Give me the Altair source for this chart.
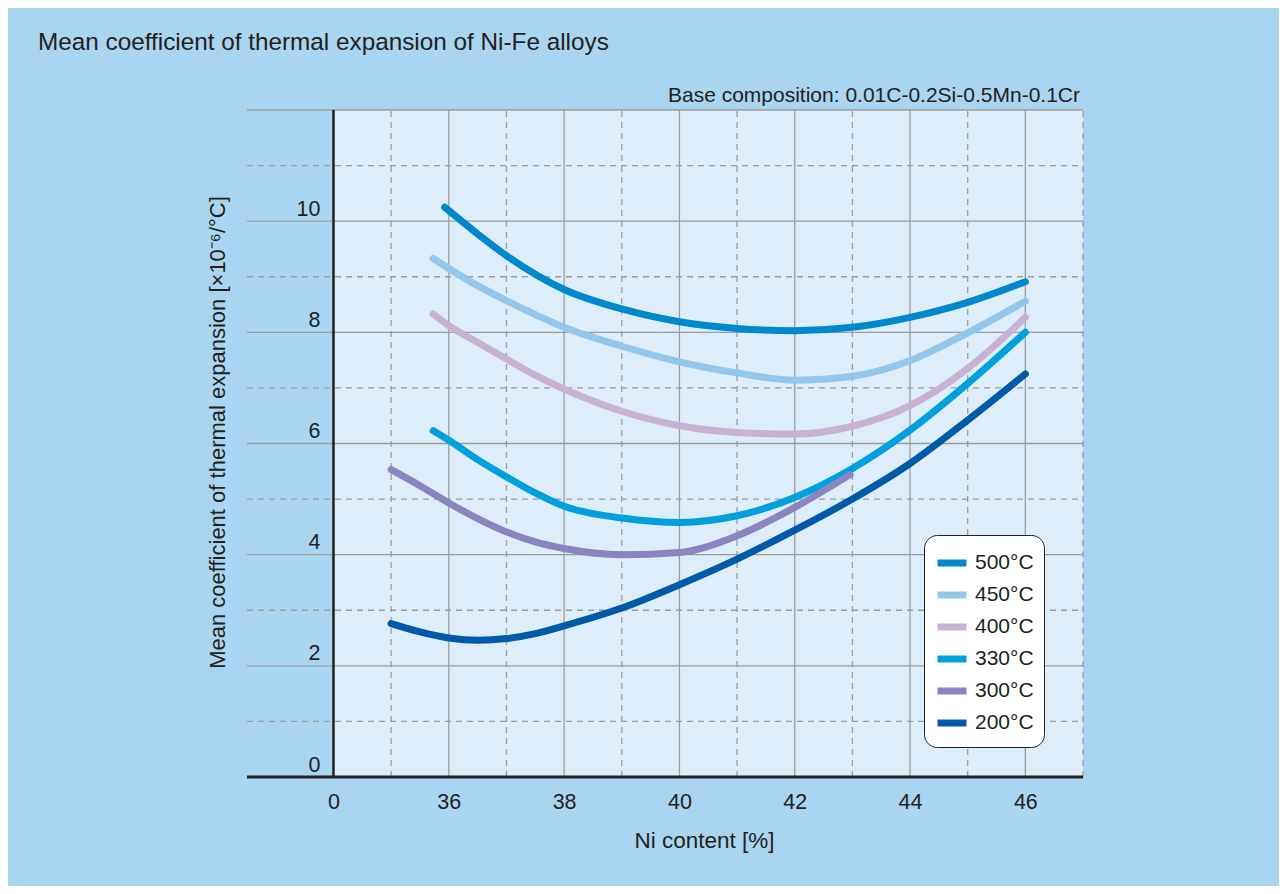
import altair as alt
import pandas as pd

FONT = "Liberation Sans, Arial, Helvetica, sans-serif"
TXT = "#231f20"

# ---- data ----
SERIES = ["500°C", "450°C", "400°C", "330°C", "300°C", "200°C"]
COLORS = ["#0088cc", "#93c6ea", "#c7b2d6", "#00a0dc", "#8a84c0", "#005aa8"]

NI_500 = [35.93, 36.5, 37, 38, 39, 40, 41, 42, 43, 44, 45, 46]
CTE_500 = [10.25, 9.77, 9.38, 8.77, 8.42, 8.19, 8.07, 8.03, 8.09, 8.27, 8.54, 8.91]

NI_450 = [35.73, 36, 36.5, 37, 37.5, 38, 39, 40, 41, 42, 43, 44, 45, 46]
CTE_450 = [9.33, 9.15, 8.84, 8.57, 8.32, 8.09, 7.75, 7.47, 7.27, 7.14, 7.21, 7.49, 7.99, 8.56]

NI_400 = [35.73, 36, 36.5, 37, 37.5, 38, 39, 40, 41, 42, 43, 44, 45, 46]
CTE_400 = [8.33, 8.12, 7.82, 7.52, 7.23, 6.98, 6.58, 6.32, 6.20, 6.17, 6.31, 6.68, 7.35, 8.27]

NI_330 = [35.73, 36, 36.5, 37, 37.5, 38, 39, 40, 41, 42, 43, 44, 45, 46]
CTE_330 = [6.23, 6.06, 5.71, 5.40, 5.11, 4.87, 4.66, 4.58, 4.70, 5.03, 5.55, 6.24, 7.08, 8.00]

NI_300 = [35.0, 35.5, 36, 36.5, 37, 37.5, 38, 39, 40, 41, 42, 42.96]
CTE_300 = [5.53, 5.24, 4.93, 4.65, 4.41, 4.23, 4.11, 4.00, 4.04, 4.34, 4.85, 5.44]

NI_200 = [35.0, 35.5, 36, 36.5, 37, 37.5, 38, 39, 40, 41, 42, 43, 44, 45, 46]
CTE_200 = [2.76, 2.61, 2.50, 2.46, 2.49, 2.58, 2.72, 3.04, 3.46, 3.92, 4.44, 5.00, 5.64, 6.42, 7.25]

X_TICKS = [34, 36, 38, 40, 42, 44, 46]
Y_TICKS = [0, 2, 4, 6, 8, 10]
X_GRID_SOLID = [36, 38, 40, 42, 44, 46]
X_GRID_DASH = [35, 37, 39, 41, 43, 45, 47]
Y_GRID_SOLID = [2, 4, 6, 8, 10, 12]
Y_GRID_DASH = [1, 3, 5, 7, 9, 11]
X_MIN, X_BREAK, X_MAX = 32.5, 34, 47
Y_MIN, Y_MAX = 0, 12

TITLE = "Mean coefficient of thermal expansion of Ni-Fe alloys"
NOTE = "Base composition: 0.01C-0.2Si-0.5Mn-0.1Cr"
X_TITLE = "Ni content [%]"
Y_TITLE = "Mean coefficient of thermal expansion [×10⁻⁶/°C]"

# ---- tables ----
rows = []
for name, xs, ys in [("500°C", NI_500, CTE_500), ("450°C", NI_450, CTE_450),
                     ("400°C", NI_400, CTE_400), ("330°C", NI_330, CTE_330),
                     ("300°C", NI_300, CTE_300), ("200°C", NI_200, CTE_200)]:
    for a, b in zip(xs, ys):
        rows.append({"series": name, "ni": a, "cte": b})
lines_df = pd.DataFrame(rows)

xs_scale = alt.Scale(domain=[X_MIN, X_MAX], nice=False, zero=False)
ys_scale = alt.Scale(domain=[Y_MIN, Y_MAX], nice=False, zero=False)

x_axis = alt.Axis(values=X_TICKS, labelExpr="datum.value == 34 ? '0' : datum.label",
                  grid=False, domain=False, ticks=False, tickSize=0,
                  labelPadding=31, labelBaseline="alphabetic", labelFontSize=21.5,
                  labelFont=FONT, labelColor=TXT, labelFontWeight="normal",
                  title=X_TITLE, titleFont=FONT, titleFontSize=22.5, titleColor=TXT,
                  titleFontWeight="normal", titleX=457, titleY=70, titleBaseline="alphabetic",
                  titleAlign="center")
y_axis = alt.Axis(values=Y_TICKS, grid=False, domain=False, ticks=False, tickSize=0,
                  labelPadding=-73, labelAlign="right", labelBaseline="alphabetic",
                  labelOffset=-6, labelFontSize=21.5, labelFont=FONT, labelColor=TXT,
                  title=Y_TITLE, titleFont=FONT, titleFontSize=22, titleColor=TXT,
                  titleFontWeight="normal", titleX=-23, titleY=322, titleAngle=270,
                  titleBaseline="alphabetic", titleAlign="center")

bg_df = pd.DataFrame([{"x0": X_BREAK, "x1": X_MAX, "y0": Y_MIN, "y1": Y_MAX}])
vs_df = pd.DataFrame({"x": X_GRID_SOLID, "y0": Y_MIN, "y1": Y_MAX})
vd_df = pd.DataFrame({"x": X_GRID_DASH, "y0": Y_MIN, "y1": Y_MAX})
hs_df = pd.DataFrame({"y": Y_GRID_SOLID, "x0": X_MIN, "x1": X_MAX})
hd_df = pd.DataFrame({"y": Y_GRID_DASH, "x0": X_MIN, "x1": X_MAX})
yaxis_df = pd.DataFrame([{"x": X_BREAK, "y0": Y_MIN, "y1": Y_MAX}])
xaxis_df = pd.DataFrame([{"y": Y_MIN, "x0": X_MIN, "x1": X_MAX}])

bg = alt.Chart(bg_df).mark_rect(fill="#ddeefa").encode(
    x=alt.X("x0:Q", scale=xs_scale, axis=x_axis), x2="x1:Q",
    y=alt.Y("y0:Q", scale=ys_scale, axis=y_axis), y2="y1:Q")

def vrule(df, dash):
    kw = {"strokeDash": [6, 5]} if dash else {}
    return alt.Chart(df).mark_rule(stroke="#9c9c9c", strokeWidth=1.3, **kw).encode(
        x=alt.X("x:Q", scale=xs_scale, axis=x_axis),
        y=alt.Y("y0:Q", scale=ys_scale, axis=y_axis), y2="y1:Q")

def hrule(df, dash, color="#9c9c9c", width=1.3):
    kw = {"strokeDash": [6, 5]} if dash else {}
    return alt.Chart(df).mark_rule(stroke=color, strokeWidth=width, **kw).encode(
        y=alt.Y("y:Q", scale=ys_scale, axis=y_axis),
        x=alt.X("x0:Q", scale=xs_scale, axis=x_axis), x2="x1:Q")

grid = vrule(vs_df, False) + vrule(vd_df, True) + hrule(hs_df, False) + hrule(hd_df, True)

axes = alt.Chart(yaxis_df).mark_rule(stroke=TXT, strokeWidth=2.5).encode(
    x=alt.X("x:Q", scale=xs_scale, axis=x_axis),
    y=alt.Y("y0:Q", scale=ys_scale, axis=y_axis), y2="y1:Q") + \
    hrule(xaxis_df, False, TXT, 2.8)

lines = alt.Chart(lines_df).mark_line(strokeWidth=7, strokeCap="round",
                                      interpolate="monotone").encode(
    x=alt.X("ni:Q", scale=xs_scale, axis=x_axis),
    y=alt.Y("cte:Q", scale=ys_scale, axis=y_axis),
    color=alt.Color("series:N", scale=alt.Scale(domain=SERIES, range=COLORS),
                    sort=SERIES,
                    legend=alt.Legend(title=None, orient="none", legendX=677, legendY=425,
                                      padding=10, cornerRadius=13, strokeColor=TXT,
                                      fillColor="white", symbolType="stroke",
                                      symbolSize=841, symbolStrokeWidth=7,
                                      labelFontSize=21, labelFont=FONT, labelColor=TXT,
                                      labelOffset=5, rowPadding=0)),
    order=alt.Order("ni:Q"))

text_df = pd.DataFrame([{"t": TITLE}])
note_df = pd.DataFrame([{"t": NOTE}])
title_txt = alt.Chart(text_df).mark_text(align="left", baseline="alphabetic", font=FONT,
                                         fontSize=24.3, color=TXT).encode(
    text="t:N", x=alt.value(-209), y=alt.value(-60))
note_txt = alt.Chart(note_df).mark_text(align="right", baseline="alphabetic", font=FONT,
                                        fontSize=21, color=TXT).encode(
    text="t:N", x=alt.value(833), y=alt.value(-8))

chart = alt.layer(bg, grid, lines, axes, title_txt, note_txt).properties(
    width=836, height=667,
    autosize=alt.AutoSizeParams(type="none"),
    padding={"left": 239, "top": 102, "right": 196, "bottom": 109},
    background="#a9d5f0",
).configure_view(stroke=None, fill=None)

chart.save("out.html", embed_options={"renderer": "svg", "actions": False})
